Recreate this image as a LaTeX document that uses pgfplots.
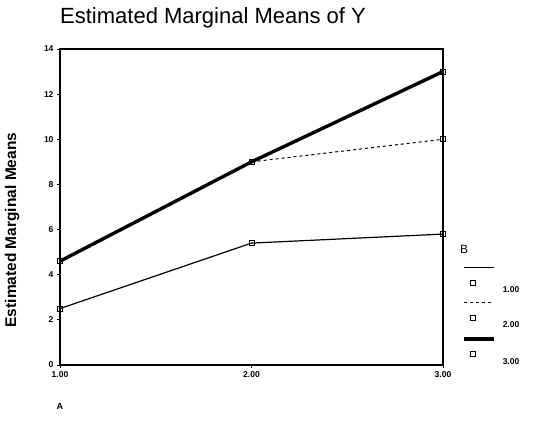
\documentclass[border=0pt]{standalone}
\usepackage{pgfplots}
\pgfplotsset{compat=1.18}
\usepackage{fontspec}
\setmainfont{Liberation Sans}
\begin{document}
\begin{tikzpicture}[x=1pt,y=1pt]
\path[use as bounding box] (0,0) rectangle (539,423);
\begin{axis}[
  at={(60pt,58pt)}, anchor=south west,
  scale only axis, width=383pt, height=316pt,
  xmin=1, xmax=3, ymin=0, ymax=14,
  xtick={1,2,3}, xticklabels={1.00,2.00,3.00},
  ytick={0,2,4,6,8,10,12,14},
  /pgf/number format/assume math mode=true,
  tick label style={font=\bfseries\fontsize{8.5}{10}\selectfont},
  tick align=outside, major tick length=3pt,
  tick style={black, line width=0.8pt},
  axis line style={line width=1.3pt},
  xtick pos=bottom, ytick pos=left,
  xlabel={A}, xlabel style={font=\bfseries\fontsize{9}{10}\selectfont, at={(axis description cs:0,-0.13)}, anchor=center},
  ylabel={Estimated Marginal Means},
  ylabel style={font=\bfseries\fontsize{15.5}{17}\selectfont, at={(axis description cs:-0.125,0.427)}, anchor=center},
  clip=false,
  legend style={at={(axis description cs:1.05,0.31)}, anchor=north west, draw=none, fill=none,
    font=\bfseries\fontsize{8.5}{10}\selectfont, row sep=7pt, inner sep=0pt,
    nodes={inner sep=1pt, anchor=base west}},
  legend cell align=left,
  legend image code/.code={
    \draw[#1, mark=none] (0pt,25pt) -- (30pt,25pt);
    \draw[black, solid, line width=0.7pt, fill=white] (6.5pt,7.5pt) rectangle (11.5pt,12.5pt);
  },
]
\addplot[black, line width=1.2pt, mark=square, mark size=2.5pt, mark options={solid, fill=white, line width=0.7pt}]
  coordinates {(1,2.5) (2,5.4) (3,5.8)};
\addlegendentry{\hspace{6pt}1.00}
\addplot[black, line width=3.4pt, mark=square, mark size=2.5pt, mark options={solid, fill=white, line width=0.7pt}, forget plot]
  coordinates {(1,4.6) (2,9.0) (3,13.0)};
\addplot[black, line width=1.0pt, dash pattern=on 3pt off 3pt, mark=square, mark size=2.5pt, mark options={solid, fill=white, line width=0.7pt}]
  coordinates {(1,4.6) (2,9.0) (3,10.0)};
\addlegendentry{\hspace{6pt}2.00}
\addlegendimage{black, line width=3.4pt}
\addlegendentry{\hspace{6pt}3.00}
\node[anchor=west, font=\fontsize{22}{26}\selectfont, inner sep=0pt] at (axis description cs:0.0,1.10) {Estimated Marginal Means of Y};
\node[anchor=center, font=\fontsize{12}{14}\selectfont, inner sep=0pt] at (axis description cs:1.055,0.366) {B};
\end{axis}
\end{tikzpicture}
\end{document}
